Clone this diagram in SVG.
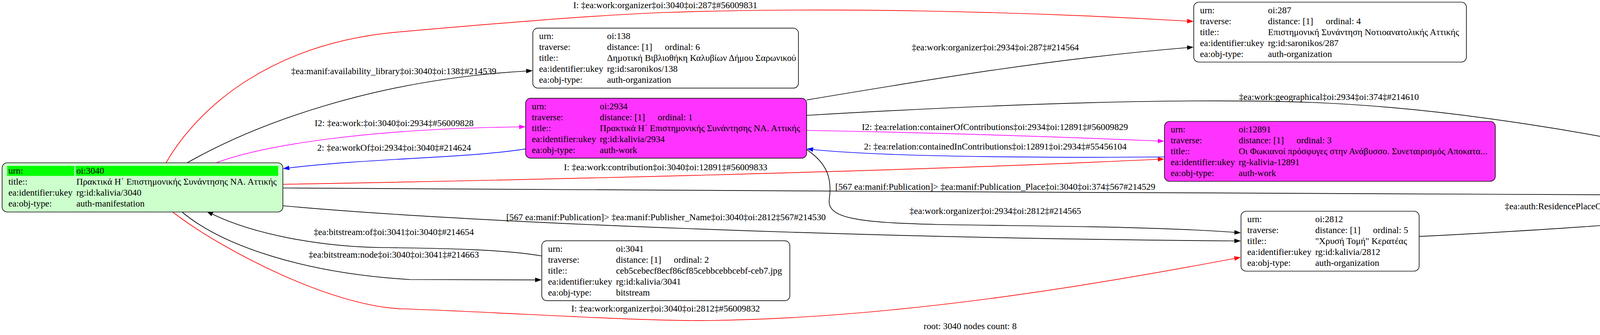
<svg xmlns="http://www.w3.org/2000/svg" width="4967" height="858" viewBox="0 0 4967 858">
<style>
text{font-family:"Liberation Serif","DejaVu Serif",serif;font-size:23.3px;fill:#000}
.lbl{text-anchor:middle}
.box{stroke:#111;stroke-width:1.7}
.w{fill:#fff}
.g{fill:#ccffcc}
.m{fill:#ff33ff}
.hd{fill:#00ff00}
.e{fill:none;stroke-width:1.7}
.k{stroke:#000}
.r{stroke:#ff0000}
.p{stroke:#ff00ff}
.b{stroke:#0000ff}
</style>
<defs>
<marker id="ak" viewBox="0 0 10 7" refX="0" refY="3.5" markerWidth="16.7" markerHeight="11.7" markerUnits="userSpaceOnUse" orient="auto"><path d="M0,0L10,3.5L0,7z" fill="#000"/></marker>
<marker id="ar" viewBox="0 0 10 7" refX="0" refY="3.5" markerWidth="16.7" markerHeight="11.7" markerUnits="userSpaceOnUse" orient="auto"><path d="M0,0L10,3.5L0,7z" fill="#ff0000"/></marker>
<marker id="ap" viewBox="0 0 10 7" refX="0" refY="3.5" markerWidth="16.7" markerHeight="11.7" markerUnits="userSpaceOnUse" orient="auto"><path d="M0,0L10,3.5L0,7z" fill="#ff00ff"/></marker>
<marker id="ab" viewBox="0 0 10 7" refX="0" refY="3.5" markerWidth="16.7" markerHeight="11.7" markerUnits="userSpaceOnUse" orient="auto"><path d="M0,0L10,3.5L0,7z" fill="#0000ff"/></marker>
</defs>
<rect width="4967" height="858" fill="#fff"/>

<g id="connectors">
<path class="e r" marker-end="url(#ar)" d="M425,417 C510,270 700,110 1019,82 C1250,62 1500,40 1700,32 C2100,18 2600,28 3039,54"/>
<text class="lbl" x="1703" y="21">I: ‡ea:work:organizer‡oi:3040‡oi:287‡#56009831</text>
<path class="e k" marker-end="url(#ak)" d="M479,417 C650,320 950,205 1347,182"/>
<text class="lbl" x="1008" y="190">‡ea:manif:availability_library‡oi:3040‡oi:138‡#214539</text>
<path class="e p" marker-end="url(#ap)" d="M553,417 C680,370 950,330 1329,325"/>
<text class="lbl" x="1009" y="323">I2: ‡ea:work:‡oi:3040‡oi:2934‡#56009828</text>
<path class="e b" marker-end="url(#ab)" d="M1345.5,381.4 C1200,405 950,405 740.6,430"/>
<text class="lbl" x="1009" y="386">2: ‡ea:workOf‡oi:2934‡oi:3040‡#214624</text>
<path class="e r" marker-end="url(#ar)" d="M724,472 C1300,462 2300,440 2964,408"/>
<text class="lbl" x="1704" y="436">I: ‡ea:work:contribution‡oi:3040‡oi:12891‡#56009833</text>
<path class="e k" marker-end="url(#ak)" d="M724,481.5 C1800,488 3500,497 4485,500.6"/>
<text class="lbl" x="2548" y="486">[567 ea:manif:Publication]&gt; ‡ea:manif:Publication_Place‡oi:3040‡oi:374‡567#214529</text>
<path class="e k" marker-end="url(#ak)" d="M724,527 C1200,570 2200,610 3160,617"/>
<text class="lbl" x="1705" y="564">[567 ea:manif:Publication]&gt; ‡ea:manif:Publisher_Name‡oi:3040‡oi:2812‡567#214530</text>
<path class="e k" marker-end="url(#ak)" d="M1386.7,655.5 C1300,640 1150,636 976,634 C820,632 650,600 543.8,548.5"/>
<text class="lbl" x="1008" y="602">‡ea:bitstream:of‡oi:3041‡oi:3040‡#214654</text>
<path class="e k" marker-end="url(#ak)" d="M466,543 C570,630 780,700 1050,716 C1200,717 1300,717 1370,716.8"/>
<text class="lbl" x="1008" y="660">‡ea:bitstream:node‡oi:3040‡oi:3041‡#214663</text>
<path class="e r" marker-end="url(#ar)" d="M442,543 C572,643 850,785 1030,791 C1300,800 1600,822 1812,821 C2300,815 2800,730 3160,662"/>
<text class="lbl" x="1704" y="798">I: ‡ea:work:organizer‡oi:3040‡oi:2812‡#56009832</text>
<path class="e k" marker-end="url(#ak)" d="M2065,256 C2400,200 2700,150 3039,122"/>
<text class="lbl" x="2548" y="129">‡ea:work:organizer‡oi:2934‡oi:287‡#214564</text>
<path class="e k" marker-end="url(#ak)" d="M2065,295.5 C2500,270 3000,250 3350,262 C3700,275 4100,340 4486,430"/>
<text class="lbl" x="3402" y="256">‡ea:work:geographical‡oi:2934‡oi:374‡#214610</text>
<path class="e p" marker-end="url(#ap)" d="M2065,334 C2400,340 2700,350 2964,361"/>
<text class="lbl" x="2547" y="333">I2: ‡ea:relation:containerOfContributions‡oi:2934‡oi:12891‡#56009829</text>
<path class="e b" marker-end="url(#ab)" d="M2981,402 C2600,405 2250,400 2081.6,383"/>
<text class="lbl" x="2548" y="383">2: ‡ea:relation:containedInContributions‡oi:12891‡oi:2934‡#55456104</text>
<path class="e k" marker-end="url(#ak)" d="M2065,383 C2120,420 2130,460 2123,510 C2115,560 2200,570 2400,575 C2700,580 2950,580 3160,595"/>
<text class="lbl" x="2548" y="548">‡ea:work:organizer‡oi:2934‡oi:2812‡#214565</text>
<path class="e k" marker-end="url(#ak)" d="M3633,605.7 C3900,592 4200,575 4485,541"/>
<text class="lbl" x="4164" y="536">‡ea:auth:ResidencePlaceOrganization‡oi:2812‡oi:374‡#54505776</text>
</g>

<g id="n3040">
<rect class="box g" x="5.4" y="417" width="718.8" height="126" rx="13"/>
<rect class="hd" x="18.4" y="425" width="172" height="25.5"/>
<rect class="hd" x="193.3" y="425" width="518.7" height="25.5"/>
<text x="21.4" y="445">urn:</text><text x="195.4" y="445">oi:3040</text>
<text x="21.4" y="473">title::</text><text x="195.4" y="473">Πρακτικά Η΄ Επιστημονικής Συνάντησης ΝΑ. Αττικής</text>
<text x="21.4" y="501">ea:identifier:ukey</text><text x="195.4" y="501">rg:id:kalivia/3040</text>
<text x="21.4" y="529">ea:obj-type:</text><text x="195.4" y="529">auth-manifestation</text>
</g>

<g id="n138">
<rect class="box w" x="1364" y="72.2" width="680" height="153.5" rx="13"/>
<text x="1380" y="100.2">urn:</text><text x="1554" y="100.2">oi:138</text>
<text x="1380" y="128.2">traverse:</text><text x="1554" y="128.2">distance: [1]</text><text x="1702" y="128.2">ordinal: 6</text>
<text x="1380" y="156.2">title::</text><text x="1554" y="156.2">Δημοτική Βιβλιοθήκη Καλυβίων Δήμου Σαρωνικού</text>
<text x="1380" y="184.2">ea:identifier:ukey</text><text x="1554" y="184.2">rg:id:saronikos/138</text>
<text x="1380" y="212.2">ea:obj-type:</text><text x="1554" y="212.2">auth-organization</text>
</g>

<g id="n2934">
<rect class="box m" x="1345.5" y="251.7" width="719.5" height="153.5" rx="13"/>
<text x="1361.5" y="279.7">urn:</text><text x="1535.5" y="279.7">oi:2934</text>
<text x="1361.5" y="307.7">traverse:</text><text x="1535.5" y="307.7">distance: [1]</text><text x="1683.5" y="307.7">ordinal: 1</text>
<text x="1361.5" y="335.7">title::</text><text x="1535.5" y="335.7">Πρακτικά Η΄ Επιστημονικής Συνάντησης ΝΑ. Αττικής</text>
<text x="1361.5" y="363.7">ea:identifier:ukey</text><text x="1535.5" y="363.7">rg:id:kalivia/2934</text>
<text x="1361.5" y="391.7">ea:obj-type:</text><text x="1535.5" y="391.7">auth-work</text>
</g>

<g id="n3041">
<rect class="box w" x="1387" y="616.7" width="635" height="153.5" rx="13"/>
<text x="1403" y="644.7">urn:</text><text x="1577" y="644.7">oi:3041</text>
<text x="1403" y="672.7">traverse:</text><text x="1577" y="672.7">distance: [1]</text><text x="1725" y="672.7">ordinal: 2</text>
<text x="1403" y="700.7">title::</text><text x="1577" y="700.7">ceb5cebecf8ecf86cf85cebbcebbcebf-ceb7.jpg</text>
<text x="1403" y="728.7">ea:identifier:ukey</text><text x="1577" y="728.7">rg:id:kalivia/3041</text>
<text x="1403" y="756.7">ea:obj-type:</text><text x="1577" y="756.7">bitstream</text>
</g>

<g id="n287">
<rect class="box w" x="3056" y="5.5" width="698" height="153.5" rx="13"/>
<text x="3072" y="33.5">urn:</text><text x="3246" y="33.5">oi:287</text>
<text x="3072" y="61.5">traverse:</text><text x="3246" y="61.5">distance: [1]</text><text x="3394" y="61.5">ordinal: 4</text>
<text x="3072" y="89.5">title::</text><text x="3246" y="89.5">Επιστημονική Συνάντηση Νοτιοανατολικής Αττικής</text>
<text x="3072" y="117.5">ea:identifier:ukey</text><text x="3246" y="117.5">rg:id:saronikos/287</text>
<text x="3072" y="145.5">ea:obj-type:</text><text x="3246" y="145.5">auth-organization</text>
</g>

<g id="n12891">
<rect class="box m" x="2981" y="311" width="847" height="153.5" rx="13"/>
<text x="2997" y="339">urn:</text><text x="3171" y="339">oi:12891</text>
<text x="2997" y="367">traverse:</text><text x="3171" y="367">distance: [1]</text><text x="3319" y="367">ordinal: 3</text>
<text x="2997" y="395">title::</text><text x="3171" y="395">Οι Φωκιανοί πρόσφυγες στην Ανάβυσσο. Συνεταιρισμός Αποκατα...</text>
<text x="2997" y="423">ea:identifier:ukey</text><text x="3171" y="423">rg-kalivia-12891</text>
<text x="2997" y="451">ea:obj-type:</text><text x="3171" y="451">auth-work</text>
</g>

<g id="n2812">
<rect class="box w" x="3177" y="541" width="456" height="153.5" rx="13"/>
<text x="3193" y="569">urn:</text><text x="3367" y="569">oi:2812</text>
<text x="3193" y="597">traverse:</text><text x="3367" y="597">distance: [1]</text><text x="3515" y="597">ordinal: 5</text>
<text x="3193" y="625">title::</text><text x="3367" y="625">"Χρυσή Τομή" Κερατέας</text>
<text x="3193" y="653">ea:identifier:ukey</text><text x="3367" y="653">rg:id:kalivia/2812</text>
<text x="3193" y="681">ea:obj-type:</text><text x="3367" y="681">auth-organization</text>
</g>

<g id="n374">
<rect class="box w" x="4502" y="425.7" width="458" height="153.5" rx="13"/>
<text x="4518" y="453.7">urn:</text><text x="4692" y="453.7">oi:374</text>
<text x="4518" y="481.7">traverse:</text><text x="4692" y="481.7">distance: [1]</text><text x="4840" y="481.7">ordinal: 7</text>
<text x="4518" y="509.7">title::</text><text x="4692" y="509.7">Κερατέα</text>
<text x="4518" y="537.7">ea:identifier:ukey</text><text x="4692" y="537.7">rg:id:saronikos/374</text>
<text x="4518" y="565.7">ea:obj-type:</text><text x="4692" y="565.7">auth-place</text>
</g>

<text class="lbl" x="2483.5" y="843">root: 3040 nodes count: 8</text>
</svg>
